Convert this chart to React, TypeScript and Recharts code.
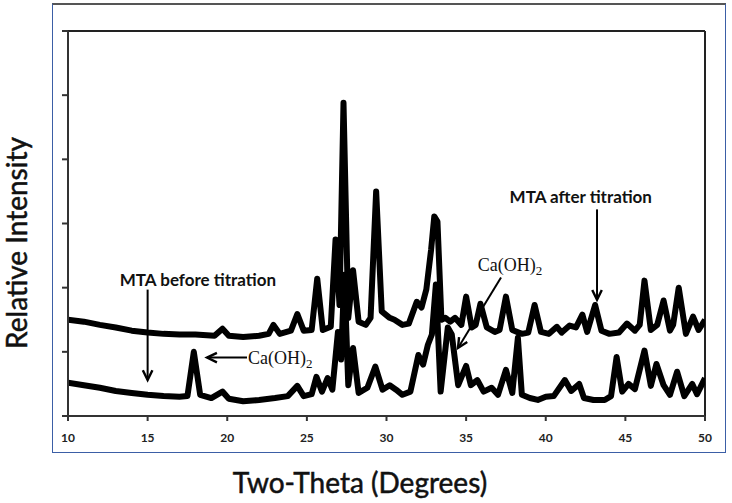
import { LineChart, Line, XAxis, YAxis, ReferenceLine, ReferenceDot } from "recharts";

// MTA after titration (upper trace)
const afterTheta = [
  10, 11, 12, 13, 14, 15, 16, 17, 18, 19.2, 19.7, 20.1, 21, 22, 22.6, 22.9, 23.3, 24.0, 24.4, 24.8,
  25.3, 25.65, 26.0, 26.5, 26.8, 27.05, 27.3, 27.6, 27.9, 28.25, 28.7, 29.0, 29.35, 29.7, 30.2, 30.5,
  31.0, 31.4, 31.9, 32.2, 32.5, 32.8, 33.0, 33.2, 33.45, 33.7, 34.0, 34.3, 34.7, 35.0, 35.35, 35.6,
  35.9, 36.3, 36.8, 37.1, 37.5, 37.9, 38.5, 38.9, 39.3, 39.7, 40.2, 40.7, 41.0, 41.5, 41.9, 42.3,
  42.6, 43.1, 43.5, 44.0, 44.6, 45.1, 45.6, 45.9, 46.2, 46.6, 47.0, 47.4, 47.8, 48.0, 48.35, 48.8,
  49.25, 49.6, 50,
];
const afterIntensity = [
  1.5, 1.47, 1.42, 1.38, 1.33, 1.3, 1.28, 1.27, 1.27, 1.25, 1.36, 1.25, 1.23, 1.25, 1.28, 1.42, 1.28, 1.33, 1.59, 1.33,
  1.34, 2.14, 1.34, 1.39, 2.75, 1.73, 4.88, 1.53, 2.27, 1.47, 1.42, 1.53, 3.5, 1.63, 1.53, 1.5,
  1.42, 1.44, 1.78, 1.69, 1.97, 2.59, 3.11, 3.03, 1.5, 1.53, 1.47, 1.53, 1.42, 1.86, 1.38, 1.42,
  1.75, 1.38, 1.31, 1.34, 1.86, 1.34, 1.28, 1.3, 1.73, 1.31, 1.28, 1.39, 1.3, 1.41, 1.38, 1.58,
  1.31, 1.73, 1.33, 1.28, 1.3, 1.44, 1.33, 1.42, 2.11, 1.34, 1.42, 1.8, 1.33, 1.42, 2.0, 1.28,
  1.55, 1.34, 1.5,
];

// MTA before titration (lower trace)
const beforeTheta = [
  10, 11, 12, 13, 14, 15, 16, 17, 17.5, 17.9, 18.3, 19.0, 19.7, 20.1, 21, 22, 23, 23.8, 24.4, 24.8,
  25.3, 25.6, 25.95, 26.3, 26.6, 26.95, 27.15, 27.35, 27.6, 27.9, 28.25, 28.8, 29.3, 29.75, 30.2, 30.6,
  31.0, 31.5, 32.0, 32.3, 32.6, 32.85, 33.1, 33.4, 33.85, 34.1, 34.5, 35.0, 35.3, 35.7, 36.1, 36.6,
  37.0, 37.5, 37.9, 38.25, 38.5, 39.0, 39.5, 40.0, 40.5, 41.2, 41.6, 42.1, 42.4, 43.0, 43.7, 44.1,
  44.45, 44.8, 45.2, 45.6, 46.2, 46.6, 46.95, 47.4, 47.8, 48.25, 48.7, 49.2, 49.5, 50,
];
const beforeIntensity = [
  0.52, 0.48, 0.44, 0.39, 0.36, 0.33, 0.31, 0.3, 0.31, 1.0, 0.33, 0.28, 0.38, 0.27, 0.23, 0.25, 0.28, 0.31, 0.47, 0.31,
  0.34, 0.61, 0.38, 0.59, 0.41, 1.31, 0.88, 2.2, 0.48, 1.06, 0.36, 0.44, 0.77, 0.41, 0.48, 0.41,
  0.33, 0.38, 0.95, 0.8, 1.11, 1.27, 2.05, 0.38, 1.38, 1.27, 0.48, 0.78, 0.48, 0.56, 0.38, 0.44,
  0.33, 0.72, 0.36, 1.22, 0.33, 0.28, 0.25, 0.3, 0.31, 0.56, 0.39, 0.5, 0.28, 0.25, 0.25, 0.31,
  0.92, 0.38, 0.5, 0.42, 1.02, 0.47, 0.81, 0.48, 0.33, 0.69, 0.31, 0.5, 0.34, 0.59,
];

const xTicks = [10, 15, 20, 25, 30, 35, 40, 45, 50];
const yTicks = [0, 1, 2, 3, 4, 5, 6];

const afterData = afterTheta.map((t, i) => ({ theta: t, intensity: afterIntensity[i] }));
const beforeData = beforeTheta.map((t, i) => ({ theta: t, intensity: beforeIntensity[i] }));

const labelFont = "Lato, 'Open Sans', sans-serif";

const Arrow = (props: any) => {
  const { x1, y1, x2, y2 } = props;
  const a = Math.atan2(y2 - y1, x2 - x1);
  const len = 11;
  const s = 0.45;
  const p1 = `${x2 - len * Math.cos(a - s)},${y2 - len * Math.sin(a - s)}`;
  const p2 = `${x2 - len * Math.cos(a + s)},${y2 - len * Math.sin(a + s)}`;
  return (
    <g>
      <line x1={x1} y1={y1} x2={x2} y2={y2} stroke="#000" strokeWidth={2} />
      <polyline points={`${p1} ${x2},${y2} ${p2}`} fill="none" stroke="#000" strokeWidth={2.4} />
    </g>
  );
};

const boldLabel = (text: string) => (props: any) => (
  <text x={props.cx} y={props.cy} textAnchor="middle" dominantBaseline="central"
    fontFamily={labelFont} fontWeight={700} fontSize={17} fill="#111">{text}</text>
);

const caLabel = (anchor: "start" | "middle") => (props: any) => (
  <text x={props.cx} y={props.cy + 6} textAnchor={anchor} fontFamily="'Liberation Serif', serif"
    fontSize={18} fill="#111">
    Ca(OH)<tspan fontSize={13} dy={4}>2</tspan>
  </text>
);

export default function App() {
  return (
    <div style={{ position: "absolute", left: 0, top: 0, width: 732, height: 503, background: "#fff" }}>
      <div style={{ position: "absolute", left: 52, top: 3, width: 672, height: 447,
        borderLeft: "1.5px solid #3b5ea6", borderRight: "1.5px solid #3b5ea6",
        borderBottom: "1.5px solid #3b5ea6", borderTop: "2px solid #555" }} />
      <svg width={732} height={503} style={{ position: "absolute", left: 0, top: 0 }}>
        <text x={16} y={243} transform="rotate(-90 16 243)" textAnchor="middle" dominantBaseline="central"
          fontFamily={labelFont} fontSize={28} fill="#111" stroke="#111" strokeWidth={0.5}>Relative Intensity</text>
        <text x={360} y={482} textAnchor="middle" dominantBaseline="central"
          fontFamily={labelFont} fontSize={28} fill="#111" stroke="#111" strokeWidth={0.5}>Two-Theta (Degrees)</text>
      </svg>
      <div style={{ position: "absolute", left: 0, top: 0 }}>
        <LineChart width={732} height={503} margin={{ top: 31, right: 27, bottom: 57, left: 58 }}>
          <XAxis type="number" dataKey="theta" domain={[10, 50]} ticks={xTicks} allowDataOverflow
            height={30} tickSize={5} tickMargin={12} stroke="#333" strokeWidth={2}
            tick={{ fill: "#222", fontSize: 12, fontWeight: 700, fontFamily: labelFont }} />
          <YAxis type="number" dataKey="intensity" domain={[0, 6]} ticks={yTicks} width={10}
            tickSize={6} tickFormatter={() => ""} stroke="#333" strokeWidth={2} />
          <ReferenceLine y={6} stroke="#222" strokeWidth={2} />
          <ReferenceLine x={50} stroke="#222" strokeWidth={2} />
          <ReferenceLine segment={[{ x: 37.19, y: 2.16 }, { x: 34.49, y: 1.06 }]} shape={Arrow} />
          <Line data={afterData} dataKey="intensity" type="linear" stroke="#000" strokeWidth={6}
            strokeLinejoin="round" dot={false} isAnimationActive={false} />
          <Line data={beforeData} dataKey="intensity" type="linear" stroke="#000" strokeWidth={6}
            strokeLinejoin="round" dot={false} isAnimationActive={false} />
          <ReferenceLine segment={[{ x: 15, y: 1.97 }, { x: 15, y: 0.56 }]} shape={Arrow} />
          <ReferenceLine segment={[{ x: 43.22, y: 3.22 }, { x: 43.22, y: 1.81 }]} shape={Arrow} />
          <ReferenceLine segment={[{ x: 21.24, y: 0.91 }, { x: 18.73, y: 0.91 }]} shape={Arrow} />
          <ReferenceDot x={18.16} y={2.125} r={1} shape={boldLabel("MTA before titration")} />
          <ReferenceDot x={42.2} y={3.42} r={1} shape={boldLabel("MTA after titration")} />
          <ReferenceDot x={21.3} y={0.91} r={1} shape={caLabel("start")} />
          <ReferenceDot x={37.75} y={2.36} r={1} shape={caLabel("middle")} />
        </LineChart>
      </div>
    </div>
  );
}
